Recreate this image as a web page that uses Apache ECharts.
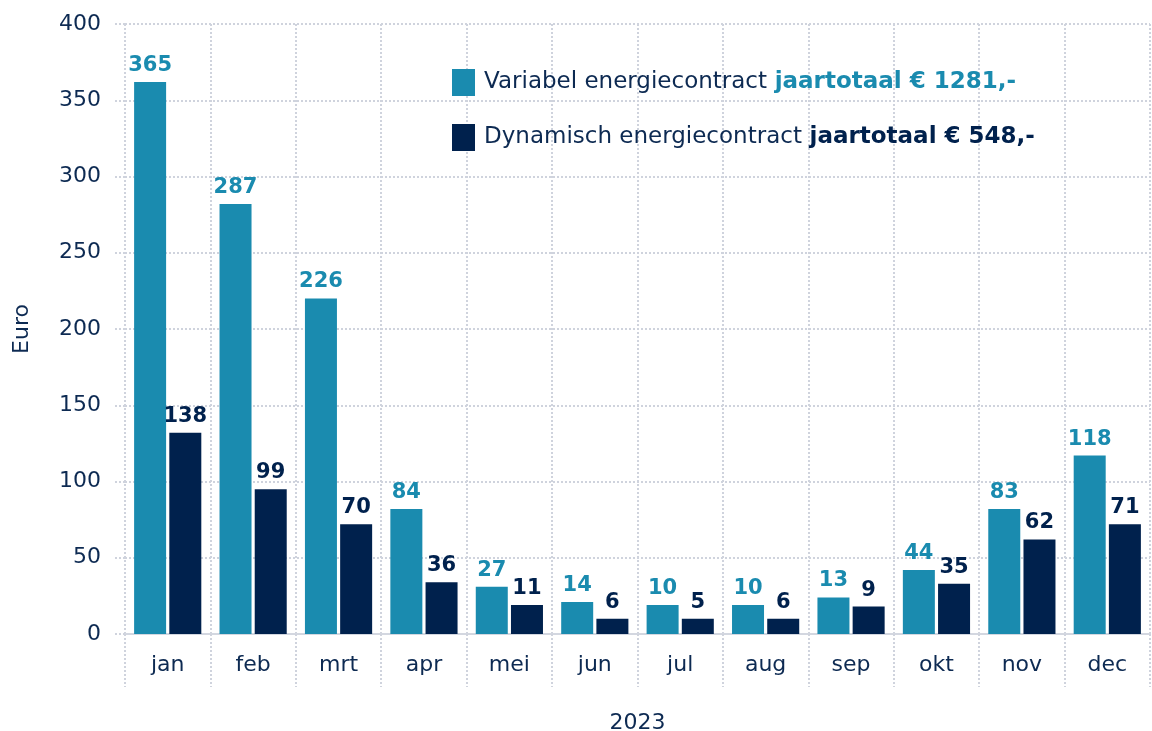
<!DOCTYPE html>
<html>
<head>
<meta charset="utf-8">
<script src="https://cdn.jsdelivr.net/npm/echarts@6/dist/echarts.min.js"></script>
<style>
  html, body { margin: 0; padding: 0; background: #fff; }
  #chart { width: 1152px; height: 731px; }
</style>
</head>
<body>
<div id="chart"></div>
<script>
// maanden 2023
var maanden = ['jan', 'feb', 'mrt', 'apr', 'mei', 'jun', 'jul', 'aug', 'sep', 'okt', 'nov', 'dec'];

var variabel  = [362, 282, 220, 82, 31, 21, 19, 19, 24, 42, 82, 117];
var dynamisch = [132, 95, 72, 34, 19, 10, 10, 10, 18, 33, 62, 72];

// labels boven de balken
var variabelLabels  = [365, 287, 226, 84, 27, 14, 10, 10, 13, 44, 83, 118];
var dynamischLabels = [138, 99, 70, 36, 11, 6, 5, 6, 9, 35, 62, 71];

var reeksNamen = ['Variabel energiecontract', 'Dynamisch energiecontract'];
var jaartotalen = ['€ 1281,-', '€ 548,-'];

var TEAL = '#1a8baf';
var NAVY = '#00214d';
var TEXT = '#0d2a52';
var DOT  = '#cfd3dd';
var FONT = 'DejaVu Sans';

var chart = echarts.init(document.getElementById('chart'));

chart.setOption({
  backgroundColor: '#fff',
  textStyle: { fontFamily: FONT },
  grid: { left: 125, right: 2, top: 24, bottom: 97, outerBoundsMode: 'none', containLabel: false },
  legend: {
    data: reeksNamen,
    orient: 'vertical',
    left: 447,
    top: 64,
    icon: 'rect',
    itemWidth: 23,
    itemHeight: 27,
    itemGap: 28,
    selectedMode: false,
    formatter: function (name) {
      var i = reeksNamen.indexOf(name);
      return '{n|' + name + '}  {b' + i + '|jaartotaal ' + jaartotalen[i] + '}';
    },
    textStyle: {
      fontFamily: FONT,
      padding: [0, 0, 0, 4],
      rich: {
        n:  { fontSize: 23, color: TEXT, fontFamily: FONT },
        b0: { fontSize: 23, color: TEAL, fontWeight: 'bold', fontFamily: FONT },
        b1: { fontSize: 23, color: NAVY, fontWeight: 'bold', fontFamily: FONT }
      }
    }
  },
  xAxis: {
    type: 'category',
    data: maanden,
    name: '2023',
    nameLocation: 'middle',
    nameGap: 78,
    nameTextStyle: { fontSize: 22, color: TEXT },
    axisLine: { lineStyle: { color: '#d3d7e0', width: 2 } },
    axisTick: {
      show: true,
      interval: 0,
      length: 53,
      lineStyle: { color: DOT, type: 'dotted', width: 2 }
    },
    axisLabel: { fontSize: 22, color: TEXT, margin: 20 },
    splitLine: {
      show: true,
      interval: 0,
      lineStyle: { color: DOT, type: 'dotted', width: 2 }
    }
  },
  yAxis: {
    type: 'value',
    min: 0,
    max: 400,
    interval: 50,
    name: 'Euro',
    nameLocation: 'middle',
    nameGap: 92,
    nameTextStyle: { fontSize: 22, color: TEXT },
    axisLine: { show: false },
    axisTick: {
      show: true,
      length: 10,
      lineStyle: { color: DOT, type: 'dotted', width: 2 }
    },
    axisLabel: { fontSize: 22, color: TEXT, margin: 24 },
    splitLine: { lineStyle: { color: DOT, type: 'dotted', width: 2 } }
  },
  series: [
    {
      name: reeksNamen[0],
      type: 'bar',
      data: variabel,
      barWidth: 32,
      barGap: '10%',
      itemStyle: { color: TEAL },
      label: {
        show: true,
        position: 'top',
        distance: 6,
        color: TEAL,
        fontSize: 21,
        fontWeight: 'bold',
        fontFamily: FONT,
        formatter: function (p) { return variabelLabels[p.dataIndex]; }
      }
    },
    {
      name: reeksNamen[1],
      type: 'bar',
      data: dynamisch,
      barWidth: 32,
      itemStyle: { color: NAVY },
      label: {
        show: true,
        position: 'top',
        distance: 6,
        color: NAVY,
        fontSize: 21,
        fontWeight: 'bold',
        fontFamily: FONT,
        formatter: function (p) { return dynamischLabels[p.dataIndex]; }
      }
    }
  ]
});
</script>
</body>
</html>
